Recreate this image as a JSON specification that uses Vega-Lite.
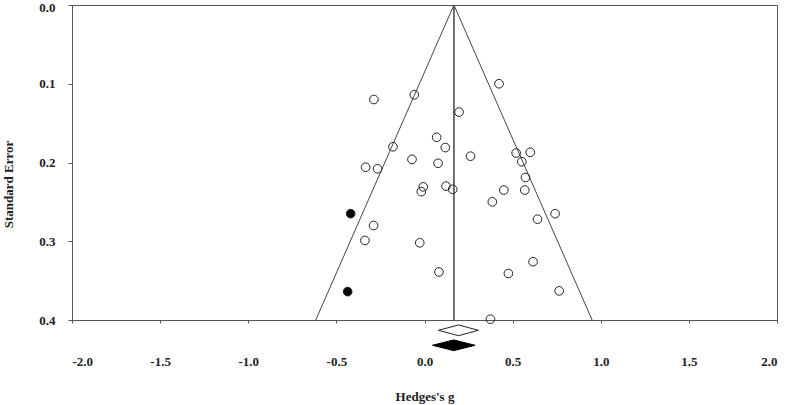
{
  "$schema": "https://vega.github.io/schema/vega-lite/v6.json",
  "width": 705,
  "height": 315,
  "autosize": {"type": "none"},
  "padding": {"left": 72, "top": 5, "right": 8, "bottom": 85},
  "background": "white",
  "config": {
    "view": {"stroke": "#555", "strokeWidth": 1},
    "axis": {"labelFont": "Liberation Serif", "titleFont": "Liberation Serif", "labelFontWeight": "bold", "titleFontWeight": "bold", "labelFontSize": 13, "titleFontSize": 13, "labelColor": "#222", "titleColor": "#222", "domainColor": "#555", "tickColor": "#555", "grid": false}
  },
  "datasets": {
    "studies": [
      {"g": -0.287, "se": 0.120, "type": "open"},
      {"g": -0.058, "se": 0.114, "type": "open"},
      {"g": 0.196, "se": 0.136, "type": "open"},
      {"g": 0.069, "se": 0.168, "type": "open"},
      {"g": 0.118, "se": 0.181, "type": "open"},
      {"g": 0.261, "se": 0.192, "type": "open"},
      {"g": -0.179, "se": 0.180, "type": "open"},
      {"g": -0.071, "se": 0.196, "type": "open"},
      {"g": 0.077, "se": 0.201, "type": "open"},
      {"g": -0.334, "se": 0.206, "type": "open"},
      {"g": -0.266, "se": 0.208, "type": "open"},
      {"g": -0.007, "se": 0.231, "type": "open"},
      {"g": -0.018, "se": 0.237, "type": "open"},
      {"g": 0.122, "se": 0.230, "type": "open"},
      {"g": 0.160, "se": 0.234, "type": "open"},
      {"g": -0.289, "se": 0.280, "type": "open"},
      {"g": -0.338, "se": 0.299, "type": "open"},
      {"g": -0.027, "se": 0.302, "type": "open"},
      {"g": 0.082, "se": 0.339, "type": "open"},
      {"g": 0.476, "se": 0.341, "type": "open"},
      {"g": 0.374, "se": 0.399, "type": "open"},
      {"g": 0.423, "se": 0.100, "type": "open"},
      {"g": 0.520, "se": 0.188, "type": "open"},
      {"g": 0.600, "se": 0.187, "type": "open"},
      {"g": 0.552, "se": 0.199, "type": "open"},
      {"g": 0.573, "se": 0.219, "type": "open"},
      {"g": 0.450, "se": 0.235, "type": "open"},
      {"g": 0.569, "se": 0.235, "type": "open"},
      {"g": 0.385, "se": 0.250, "type": "open"},
      {"g": 0.741, "se": 0.265, "type": "open"},
      {"g": 0.641, "se": 0.272, "type": "open"},
      {"g": 0.616, "se": 0.326, "type": "open"},
      {"g": 0.764, "se": 0.363, "type": "open"},
      {"g": -0.419, "se": 0.265, "type": "filled"},
      {"g": -0.436, "se": 0.364, "type": "filled"}
    ],
    "funnel": [
      {"g": -0.617, "se": 0.4, "o": 1},
      {"g": 0.167, "se": 0.0, "o": 2},
      {"g": 0.951, "se": 0.4, "o": 3}
    ],
    "diamonds": [
      {"d": "observed", "g": 0.079, "top": 0.4131, "bottom": 0.4131},
      {"d": "observed", "g": 0.193, "top": 0.4063, "bottom": 0.4199},
      {"d": "observed", "g": 0.306, "top": 0.4131, "bottom": 0.4131},
      {"d": "imputed", "g": 0.045, "top": 0.4321, "bottom": 0.4321},
      {"d": "imputed", "g": 0.166, "top": 0.4253, "bottom": 0.4389},
      {"d": "imputed", "g": 0.287, "top": 0.4321, "bottom": 0.4321}
    ]
  },
  "layer": [
    {
      "data": {"name": "funnel"},
      "mark": {"type": "line", "color": "#444", "strokeWidth": 1},
      "encoding": {
        "x": {"field": "g", "type": "quantitative", "scale": {"domain": [-2, 2], "nice": false},
          "axis": {"values": [-2, -1.5, -1, -0.5, 0, 0.5, 1, 1.5, 2], "labelExpr": "datum.value < 0 ? '-' + format(-datum.value, '.1f') : format(datum.value, '.1f')", "tickSize": 3, "labelPadding": 32, "titlePadding": 22, "title": "Hedges's g"}},
        "y": {"field": "se", "type": "quantitative", "scale": {"domain": [0, 0.4], "reverse": true, "nice": false},
          "axis": {"values": [0, 0.1, 0.2, 0.3, 0.4], "format": ".1f", "tickSize": 4, "labelPadding": 13, "labelOffset": {"condition": {"test": "datum.value == 0", "value": 2.5}, "value": 0}, "title": "Standard Error", "titleX": -64, "titleY": 179, "titleBaseline": "middle"}},
        "order": {"field": "o", "type": "quantitative"}
      }
    },
    {
      "data": {"values": [{"g": 0.167, "se0": 0, "se1": 0.4}]},
      "mark": {"type": "rule", "color": "#444", "strokeWidth": 1.5},
      "encoding": {
        "x": {"field": "g", "type": "quantitative"},
        "y": {"field": "se0", "type": "quantitative"},
        "y2": {"field": "se1"}
      }
    },
    {
      "data": {"name": "diamonds"},
      "transform": [{"filter": "datum.d == 'observed'"}],
      "mark": {"type": "area", "fill": "white", "stroke": "#222", "strokeWidth": 1},
      "encoding": {
        "x": {"field": "g", "type": "quantitative"},
        "y": {"field": "top", "type": "quantitative"},
        "y2": {"field": "bottom"}
      }
    },
    {
      "data": {"name": "diamonds"},
      "transform": [{"filter": "datum.d == 'imputed'"}],
      "mark": {"type": "area", "fill": "black", "stroke": "black", "strokeWidth": 1},
      "encoding": {
        "x": {"field": "g", "type": "quantitative"},
        "y": {"field": "top", "type": "quantitative"},
        "y2": {"field": "bottom"}
      }
    },
    {
      "data": {"name": "studies"},
      "mark": {"type": "point", "shape": "circle", "size": 75, "strokeWidth": 1, "opacity": 1},
      "encoding": {
        "x": {"field": "g", "type": "quantitative"},
        "y": {"field": "se", "type": "quantitative"},
        "fill": {"field": "type", "type": "nominal", "scale": {"domain": ["open", "filled"], "range": ["transparent", "black"]}, "legend": null},
        "stroke": {"value": "#222"},
        "fillOpacity": {"value": 1}
      }
    }
  ]
}
